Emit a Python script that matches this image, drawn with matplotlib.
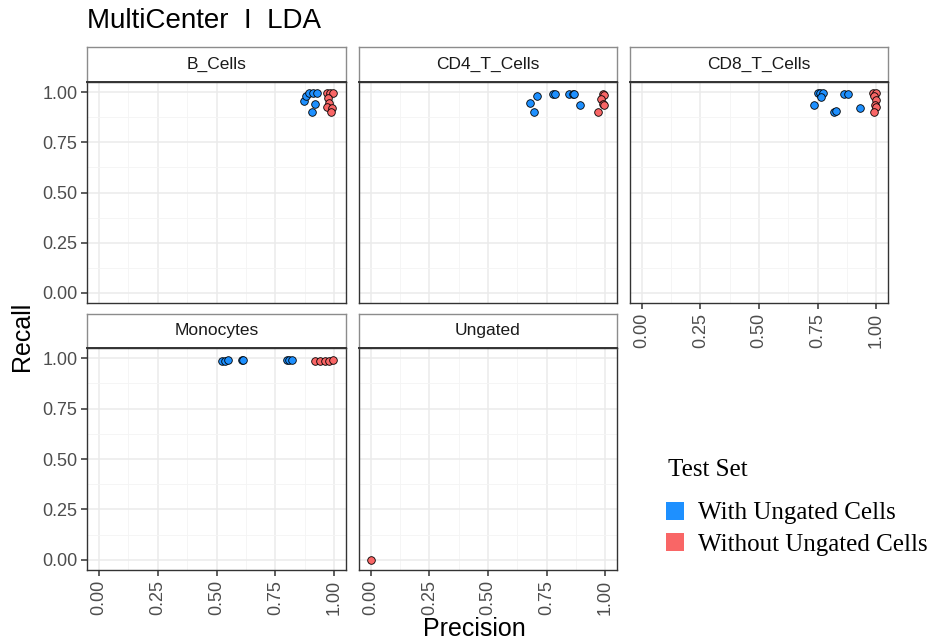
import matplotlib.pyplot as plt
from matplotlib.patches import Patch
from matplotlib.ticker import MultipleLocator

plt.rcParams["font.family"] = ["Liberation Sans", "DejaVu Sans"]

panels = ["B_Cells", "CD4_T_Cells", "CD8_T_Cells", "Monocytes", "Ungated"]
groups = ["With Ungated Cells", "Without Ungated Cells"]
colors = {"With Ungated Cells": "#1E90FF", "Without Ungated Cells": "#F96666"}

# precision / recall per cell type, split by test set
with_prec = {
    "B_Cells": [0.872, 0.881, 0.894, 0.911, 0.928, 0.919, 0.905],
    "CD4_T_Cells": [0.708, 0.677, 0.698, 0.776, 0.787, 0.847, 0.861, 0.868, 0.892],
    "CD8_T_Cells": [0.750, 0.760, 0.771, 0.765, 0.736, 0.864, 0.878, 0.821, 0.829, 0.931],
    "Monocytes": [0.522, 0.536, 0.550, 0.607, 0.614, 0.799, 0.810, 0.820],
    "Ungated": [],
}
with_rec = {
    "B_Cells": [0.955, 0.980, 0.995, 0.995, 0.995, 0.940, 0.902],
    "CD4_T_Cells": [0.979, 0.946, 0.902, 0.988, 0.988, 0.990, 0.990, 0.990, 0.935],
    "CD8_T_Cells": [0.994, 0.994, 0.994, 0.977, 0.935, 0.990, 0.990, 0.902, 0.905, 0.922],
    "Monocytes": [0.985, 0.985, 0.990, 0.990, 0.990, 0.990, 0.990, 0.990],
    "Ungated": [],
}
without_prec = {
    "B_Cells": [0.970, 0.983, 0.996, 0.974, 0.979, 0.970, 0.991, 0.987],
    "CD4_T_Cells": [0.989, 0.996, 0.982, 0.989, 0.996, 0.971],
    "CD8_T_Cells": [0.987, 0.999, 0.991, 0.999, 0.996, 1.000, 0.991],
    "Monocytes": [0.919, 0.940, 0.962, 0.976, 0.994],
    "Ungated": [0.0],
}
without_rec = {
    "B_Cells": [0.995, 0.995, 0.995, 0.970, 0.945, 0.925, 0.920, 0.900],
    "CD4_T_Cells": [0.990, 0.985, 0.964, 0.940, 0.935, 0.902],
    "CD8_T_Cells": [0.994, 0.994, 0.980, 0.960, 0.935, 0.924, 0.902],
    "Monocytes": [0.985, 0.985, 0.987, 0.987, 0.990],
    "Ungated": [0.0],
}

ticks = [0.0, 0.25, 0.5, 0.75, 1.0]
tick_labels = ["0.00", "0.25", "0.50", "0.75", "1.00"]

W, H = 944, 644
fig = plt.figure(figsize=(W / 100, H / 100), dpi=100)

col_x = [(87, 346), (359, 617), (630, 888)]
row_y = [((47, 82), (82, 303)), ((314, 348), (348, 570))]


def frac(x0, x1, y0, y1):
    return [x0 / W, 1 - y1 / H, (x1 - x0) / W, (y1 - y0) / H]


for i, name in enumerate(panels):
    r, c = divmod(i, 3)
    (sy0, sy1), (py0, py1) = row_y[r]
    x0, x1 = col_x[c]
    ax = fig.add_axes(frac(x0, x1, py0, py1))
    ax.set_xlim(-0.05, 1.05)
    ax.set_ylim(-0.05, 1.05)
    ax.xaxis.set_major_locator(MultipleLocator(0.25))
    ax.yaxis.set_major_locator(MultipleLocator(0.25))
    ax.xaxis.set_minor_locator(MultipleLocator(0.125))
    ax.yaxis.set_minor_locator(MultipleLocator(0.125))
    ax.grid(which="major", color="#EBEBEB", lw=1.1)
    ax.grid(which="minor", color="#F4F4F4", lw=0.6)
    ax.set_axisbelow(True)
    for s in ax.spines.values():
        s.set_color("#333333")
        s.set_linewidth(1.0)

    ax.scatter(with_prec[name], with_rec[name], s=30, color=colors[groups[0]],
               edgecolor="black", linewidth=0.6, zorder=3)
    ax.scatter(without_prec[name], without_rec[name], s=30, color=colors[groups[1]],
               edgecolor="black", linewidth=0.6, zorder=3)

    ax.tick_params(which="minor", length=0)
    ax.tick_params(which="major", length=4, width=1.1, color="#333333",
                   labelsize=13, labelcolor="#4D4D4D", pad=3)
    ax.set_xticks(ticks)
    ax.set_yticks(ticks)
    if c == 0:
        ax.set_yticklabels(tick_labels)
    else:
        ax.tick_params(axis="y", left=False, labelleft=False)
    if r == 1 or c == 2:
        ax.set_xticklabels(tick_labels, rotation=90)
    else:
        ax.tick_params(axis="x", bottom=False, labelbottom=False)

    # strip with facet name
    sax = fig.add_axes(frac(x0, x1, sy0, sy1))
    sax.set_xticks([])
    sax.set_yticks([])
    for s in sax.spines.values():
        s.set_color("#8C8C8C")
        s.set_linewidth(1.0)
    sax.spines["bottom"].set_color("#333333")
    sax.spines["bottom"].set_linewidth(1.4)
    sax.text(0.5, 0.5, name, ha="center", va="center", fontsize=12.5,
             color="#1A1A1A", transform=sax.transAxes)

fig.text(87 / W, 1 - 21 / H, "MultiCenter  I  LDA", fontsize=20, va="center",
         ha="left", color="black")
fig.text(474 / W, 1 - 629 / H, "Precision", fontsize=18, ha="center", va="center")
fig.text(22 / W, 1 - 336 / H, "Recall", fontsize=18, ha="center", va="center",
         rotation=90)

# legend: title drawn on its own so the gap below it can be set freely
fig.text(668 / W, 1 - 470 / H, "Test Set", fontsize=18, ha="left", va="center",
         family="Liberation Serif")
handles = [Patch(facecolor=colors[g], edgecolor="none", label=g) for g in groups]
leg = fig.legend(handles=handles, loc="upper left",
                 bbox_to_anchor=(666 / W, 1 - 502 / H), frameon=False,
                 borderpad=0, borderaxespad=0,
                 prop={"family": "Liberation Serif", "size": 18},
                 handlelength=0.7, handleheight=0.7, handletextpad=0.6,
                 labelspacing=0.35)

fig.savefig("out.png", dpi=100)
